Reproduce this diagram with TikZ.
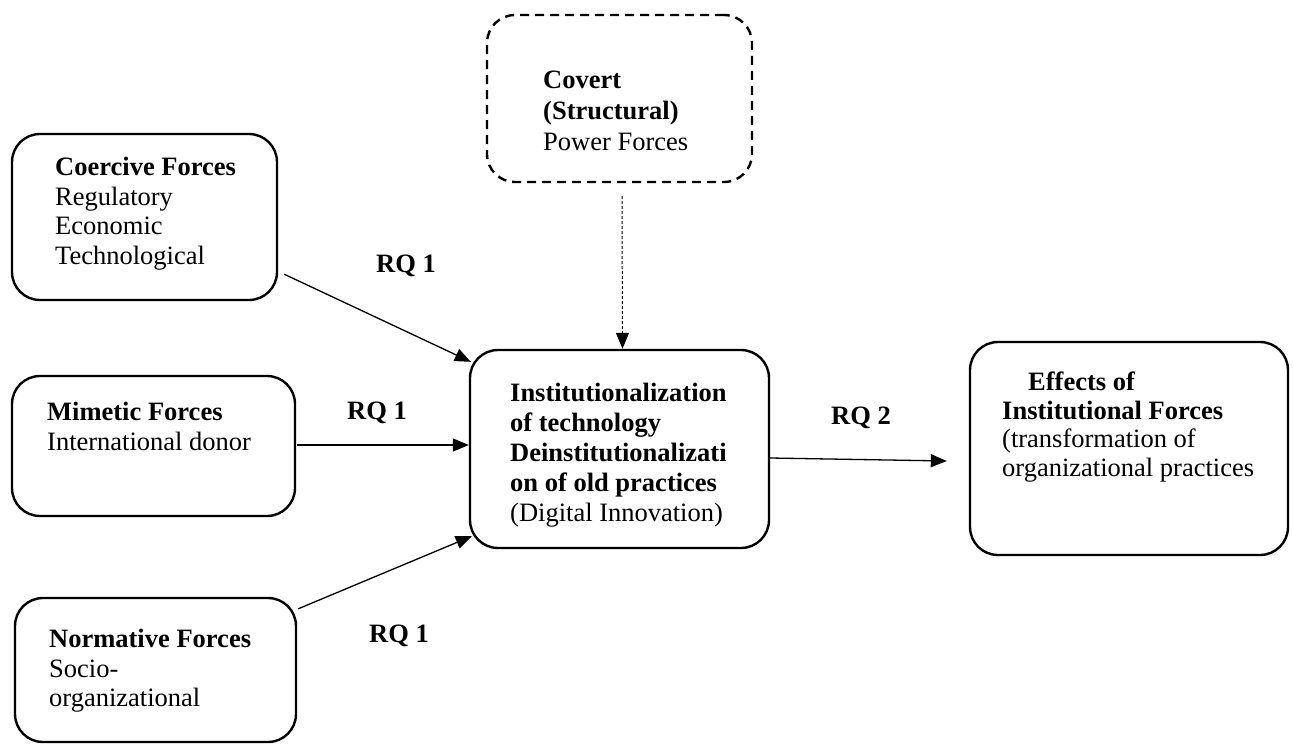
\documentclass[tikz,border=0pt]{standalone}
\usepackage{fontspec}
\setmainfont{Liberation Serif}
\usetikzlibrary{arrows.meta}
\begin{document}
\begin{tikzpicture}[x=1pt,y=-1pt,
  box/.style={draw, line width=2.4pt, rounded corners=28pt, inner sep=0pt},
  dbox/.style={box, dash pattern=on 9pt off 6pt},
  txt/.style={inner sep=0pt, align=left, anchor=north west, font=\fontsize{26.5}{29.5}\selectfont},
  rq/.style={inner sep=0pt, anchor=base, font=\fontsize{26.5}{29.5}\selectfont\bfseries},
  arr/.style={line width=1.3pt, -{Triangle[length=16pt,width=13pt]}},
  darr/.style={line width=1pt, dash pattern=on 3pt off 2pt, -{Triangle[length=16pt,width=13pt]}}]
\useasboundingbox (0,0) rectangle (1293,744);
% boxes
\node[box, minimum width=265pt, minimum height=166pt] (coer) at (144.5,217) {};
\node[box, minimum width=283pt, minimum height=140pt] (mim) at (153.5,446) {};
\node[box, minimum width=281pt, minimum height=144pt] (norm) at (155.5,670) {};
\node[dbox, minimum width=265pt, minimum height=167pt] (cov) at (619.5,98.5) {};
\node[box, minimum width=299pt, minimum height=198pt] (cent) at (619.5,449) {};
\node[box, minimum width=318pt, minimum height=213pt] (eff) at (1129,448.5) {};
% texts
\node[txt] (coert) at (55,157) {\textbf{Coercive Forces}\\Regulatory\\Economic\\Technological};
\node[txt] (mimt) at (47,402) {\textbf{Mimetic Forces}\\International donor};
\node[txt] (normt) at (49,629) {\textbf{Normative Forces}\\Socio-\\organizational};
\node[txt, font=\fontsize{26.5}{31}\selectfont] (covt) at (543,71) {\textbf{Covert}\\\textbf{(Structural)}\\Power Forces};
\node[txt, font=\fontsize{26.5}{30}\selectfont] (centt) at (510,383) {\textbf{Institutionalization}\\\textbf{of technology}\\\textbf{Deinstitutionalizati}\\\textbf{on of old practices}\\(Digital Innovation)};
\node[txt, font=\fontsize{26.5}{28.5}\selectfont] (efft) at (1002,372) {\hspace*{26pt}\textbf{Effects of}\\\textbf{Institutional Forces}\\(transformation of\\organizational practices};
% labels
\node[rq] (rq1a) at (406,272) {RQ 1};
\node[rq] (rq1b) at (377,419) {RQ 1};
\node[rq] (rq1c) at (399,642) {RQ 1};
\node[rq] (rq2) at (861,424) {RQ 2};
% connectors
\draw[arr] ([shift={(6,-27)}]coer.south east) -- ([shift={(2,13)}]cent.north west);
\draw[arr] ([shift={(1,-1)}]mim.east) -- ([shift={(0,-4)}]cent.west);
\draw[arr] ([shift={(1,12)}]norm.north east) -- ([shift={(3,-13)}]cent.south west);
\draw[darr] ([shift={(2.5,13)}]cov.south) -- ([shift={(3,0)}]cent.north);
\draw[arr] ([shift={(0,9)}]cent.east) -- ([shift={(-22,12.5)}]eff.west);
\end{tikzpicture}
\end{document}
